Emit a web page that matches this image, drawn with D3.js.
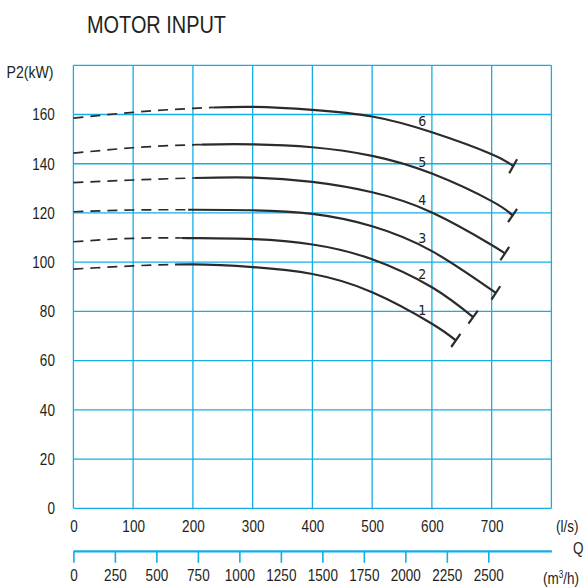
<!DOCTYPE html>
<html>
<head>
<meta charset="utf-8">
<script src="https://cdn.jsdelivr.net/npm/d3@7"></script>
<style>
  body { margin: 0; background: #fff; }
  svg text { font-family: "Liberation Sans", Arial, sans-serif; fill: #231f20; }
</style>
</head>
<body>
<svg width="584" height="588"></svg>
<script>
// flow ticks (l/s), flow ticks (m3/h), power ticks (kW)
const lsTicks = [0, 100, 200, 300, 400, 500, 600, 700];
const m3hTicks = [0, 250, 500, 750, 1000, 1250, 1500, 1750, 2000, 2250, 2500];
const powerTicks = [0, 20, 40, 60, 80, 100, 120, 140, 160];
const curveNames = ["1", "2", "3", "4", "5", "6"];

// [Q l/s, P2 kW]
const curve1 = [[0, 97.2], [100, 98.5], [200, 99.1], [300, 98.0], [400, 95.2], [500, 87.8], [600, 75.0], [640, 68.2]];
const curve2 = [[0, 108.3], [100, 109.7], [200, 109.8], [300, 109.4], [400, 107.2], [500, 101.2], [600, 89.8], [669, 77.7]];
const curve3 = [[0, 120.5], [100, 121.2], [200, 121.3], [300, 121.1], [400, 119.6], [500, 114.6], [600, 104.5], [707, 87.5]];
const curve4 = [[0, 132.3], [100, 133.4], [200, 134.2], [300, 134.4], [400, 132.6], [500, 128.4], [600, 120.2], [700, 107.0], [722, 103.5]];
const curve5 = [[0, 144.3], [100, 146.5], [200, 147.7], [300, 147.9], [400, 146.7], [500, 143.2], [600, 136.0], [700, 124.8], [735, 119.0]];
const curve6 = [[0, 158.5], [100, 160.9], [200, 162.5], [300, 163.1], [400, 161.9], [500, 159.2], [600, 152.8], [700, 143.9], [736, 139.0]];
// end of the dashed part of each curve (l/s)
const splitQ = [170, 181, 192, 203, 215, 234];
const labelQ = 584;

const curves = [curve1, curve2, curve3, curve4, curve5, curve6];

const svg = d3.select("svg"),
      margin = {top: 65.3, left: 73.4},
      width = 478,
      height = 443,
      g = svg.append("g").attr("transform", `translate(${margin.left},${margin.top})`);

const blue = "#14ade8";
const narrow = 0.82;

const x = d3.scaleLinear().domain([0, 800]).range([0, width]);
const xm = d3.scaleLinear().domain([0, 800 * 3.6]).range([0, width]);
const y = d3.scaleLinear().domain([0, 180]).range([height, 0]);

// grid
g.append("g")
  .selectAll("line")
  .data(d3.range(0, 801, 100))
  .join("line")
  .attr("x1", d => x(d)).attr("x2", d => x(d))
  .attr("y1", 0).attr("y2", height)
  .attr("stroke", blue).attr("stroke-width", 1.3);

g.append("g")
  .selectAll("line")
  .data(d3.range(0, 181, 20))
  .join("line")
  .attr("x1", 0).attr("x2", width)
  .attr("y1", d => y(d)).attr("y2", d => y(d))
  .attr("stroke", blue).attr("stroke-width", 1.3);

// y axis labels
const yAx = g.append("g")
  .call(d3.axisLeft(y).tickValues(powerTicks).tickSize(0));
yAx.select(".domain").remove();
yAx.selectAll("text")
  .attr("x", -18.5 / narrow)
  .attr("transform", `scale(${narrow},1)`)
  .style("font-size", "16.5px").attr("fill", "#231f20");

// x axis (l/s) labels
const xAx = g.append("g")
  .attr("transform", `translate(0,${height})`)
  .call(d3.axisBottom(x).tickValues(lsTicks).tickFormat(d3.format("d")).tickSize(0).tickPadding(12));
xAx.select(".domain").remove();
xAx.selectAll("text")
  .attr("transform", `scale(${narrow},1)`)
  .style("font-size", "16.5px").attr("fill", "#231f20");

// second x axis (m3/h)
const mAx = g.append("g")
  .attr("transform", `translate(0,${height + 42.5})`)
  .call(d3.axisBottom(xm).tickValues(m3hTicks).tickFormat(d3.format("d")).tickSize(12).tickSizeOuter(0).tickPadding(6));
mAx.select(".domain").attr("stroke", blue).attr("stroke-width", 2.2);
mAx.selectAll(".tick line").attr("stroke", blue).attr("stroke-width", 1.6);
mAx.selectAll("text")
  .attr("transform", `scale(${narrow},1)`)
  .style("font-size", "16.5px").attr("fill", "#231f20");

// titles
svg.append("text").attr("transform", "translate(87,32.5) scale(0.83,1)")
  .style("font-size", "24px").text("MOTOR INPUT");
svg.append("text").attr("transform", "translate(6.5,78) scale(0.83,1)")
  .style("font-size", "17px").text("P2(kW)");
svg.append("text").attr("transform", `translate(556,532) scale(${narrow},1)`)
  .style("font-size", "16.5px").text("(l/s)");
svg.append("text").attr("transform", `translate(573,554) scale(${narrow},1)`)
  .style("font-size", "16.5px").text("Q");
const unit = svg.append("text").attr("transform", `translate(543,584) scale(${narrow},1)`)
  .style("font-size", "16.5px");
unit.append("tspan").text("(m");
unit.append("tspan").attr("dy", -6).style("font-size", "10px").text("3");
unit.append("tspan").attr("dy", 6).text("/h)");

// curves
const line = d3.line()
  .x(d => x(d[0]))
  .y(d => y(d[1]))
  .curve(d3.curveNatural);

const defs = svg.append("defs");

curves.forEach((pts, i) => {
  defs.append("clipPath").attr("id", `dash${i}`)
    .append("rect").attr("x", -5).attr("y", -10)
    .attr("width", x(splitQ[i]) + 5).attr("height", height + 20);
  defs.append("clipPath").attr("id", `solid${i}`)
    .append("rect").attr("x", x(splitQ[i])).attr("y", -10)
    .attr("width", width + 30 - x(splitQ[i])).attr("height", height + 20);

  g.append("path")
    .attr("d", line(pts))
    .attr("clip-path", `url(#dash${i})`)
    .attr("fill", "none")
    .attr("stroke", "#2b2b2b")
    .attr("stroke-width", 1.7)
    .attr("stroke-dasharray", "10,7");

  g.append("path")
    .attr("d", line(pts))
    .attr("clip-path", `url(#solid${i})`)
    .attr("fill", "none")
    .attr("stroke", "#2b2b2b")
    .attr("stroke-width", 2.2);

  // end stop, perpendicular to the curve
  const a = pts[pts.length - 2], b = pts[pts.length - 1];
  const dx = x(b[0]) - x(a[0]), dy = y(b[1]) - y(a[1]);
  const len = Math.hypot(dx, dy);
  const nx = -dy / len, ny = dx / len;
  g.append("line")
    .attr("x1", x(b[0]) + nx * 8).attr("y1", y(b[1]) + ny * 8)
    .attr("x2", x(b[0]) - nx * 8).attr("y2", y(b[1]) - ny * 8)
    .attr("stroke", "#2b2b2b")
    .attr("stroke-width", 2.2);

  // curve number
  const k = pts.findIndex(d => d[0] >= labelQ);
  const p0 = pts[k - 1], p1 = pts[k];
  const pv = p0[1] + (p1[1] - p0[1]) * (labelQ - p0[0]) / (p1[0] - p0[0]);
  g.append("text")
    .attr("x", x(labelQ))
    .attr("y", y(pv) - 4)
    .attr("text-anchor", "middle")
    .style("font-family", '"DejaVu Sans Condensed", "DejaVu Sans", sans-serif')
    .style("font-weight", "200")
    .style("font-size", "14px")
    .attr("fill", "#333")
    .text(curveNames[i]);
});
</script>
</body>
</html>
